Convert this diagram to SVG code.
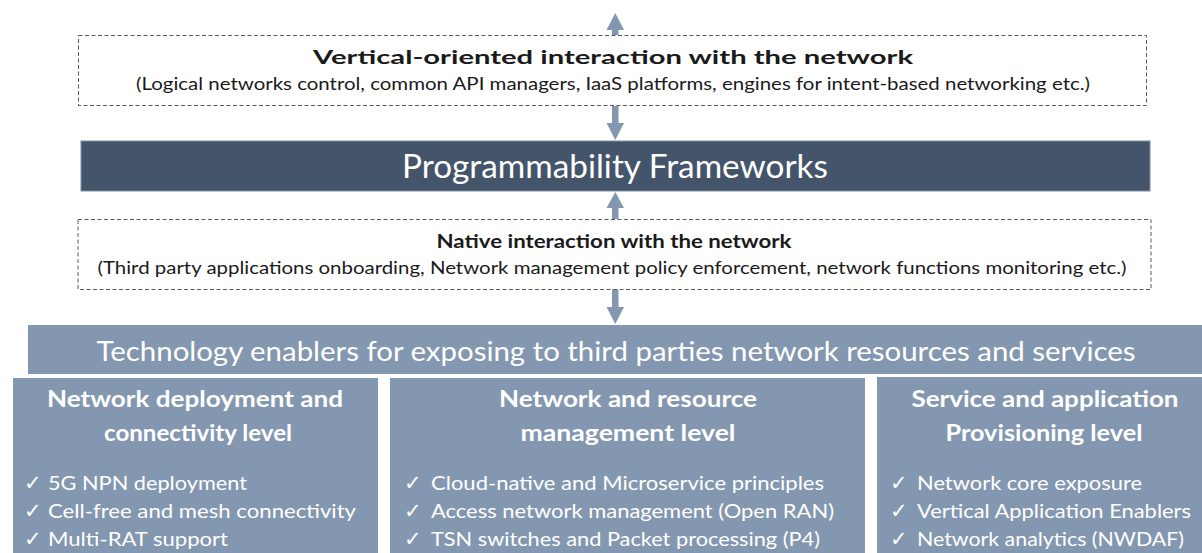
<svg xmlns="http://www.w3.org/2000/svg" width="1202" height="553" viewBox="0 0 1202 553">
  <style>
    text { font-family: Lato, "Liberation Sans", Arial, sans-serif; }
    .dash { fill: #ffffff; stroke: #595959; stroke-width: 1; stroke-dasharray: 4 2.5; }
    .dark { fill: #44546A; stroke: #7f8fa6; stroke-width: 1; }
    .light { fill: #8497B0; }
    .col { fill: #8497B0; stroke: #ffffff; stroke-width: 2; }
    .arrow { fill: #8497B0; }
    .hd { font-size: 18px; font-weight: bold; fill: #1a1a1a; text-anchor: middle; }
    .sub { font-size: 18px; fill: #1a1a1a; text-anchor: middle; }
    .ttl { font-size: 23px; font-weight: bold; fill: #ffffff; text-anchor: middle; }
    .itm { font-size: 20px; fill: #ffffff; }
    .chk { font-family: "DejaVu Sans", sans-serif; font-size: 21px; fill: #ffffff; }
  </style>

  <!-- connectors: block arrows between layers -->
  <g id="connectors">
    <path class="arrow" d="M612 35 V30 H606.5 L615.3 13 L624 30 H618.5 V35 Z"/>
    <path class="arrow" d="M612 106 V123 H606.5 L615.3 140 L624 123 H618.5 V106 Z"/>
    <path class="arrow" d="M612 219 V208 H606.5 L615.3 192 L624 208 H618.5 V219 Z"/>
    <path class="arrow" d="M612 289 V307 H606.5 L615.3 324 L624 307 H618.5 V289 Z"/>
  </g>

  <g id="vertical-interaction">
    <rect class="dash" x="78.5" y="35.5" width="1068" height="70"/>
    <text class="hd" x="613" y="64" textLength="600" lengthAdjust="spacingAndGlyphs">Vertical-oriented interaction with the network</text>
    <text class="sub" x="613" y="90" textLength="954" lengthAdjust="spacingAndGlyphs">(Logical networks control, common API managers, IaaS platforms, engines for intent-based networking etc.)</text>
  </g>

  <g id="programmability-frameworks">
    <rect class="dark" x="81" y="141" width="1069" height="50"/>
    <text x="615" y="178" font-size="33" fill="#ffffff" text-anchor="middle" textLength="426" lengthAdjust="spacingAndGlyphs">Programmability Frameworks</text>
  </g>

  <g id="native-interaction">
    <rect class="dash" x="78" y="219.5" width="1073" height="70"/>
    <text class="hd" x="614" y="248" textLength="355" lengthAdjust="spacingAndGlyphs">Native interaction with the network</text>
    <text class="sub" x="612" y="274" textLength="1029" lengthAdjust="spacingAndGlyphs">(Third party applications onboarding, Network management policy enforcement, network functions monitoring etc.)</text>
  </g>

  <g id="technology-enablers">
    <rect class="light" x="28" y="325" width="1180" height="49"/>
    <text x="616" y="361" font-size="27" fill="#ffffff" text-anchor="middle" textLength="1039" lengthAdjust="spacingAndGlyphs">Technology enablers for exposing to third parties network resources and services</text>
  </g>

  <g id="deployment-level">
    <rect class="col" x="12" y="377" width="367" height="190"/>
    <text class="ttl" x="195" y="407" textLength="296" lengthAdjust="spacingAndGlyphs">Network deployment and</text>
    <text class="ttl" x="198" y="441" textLength="188" lengthAdjust="spacingAndGlyphs">connectivity level</text>
    <text class="chk" x="24" y="490">✓</text>
    <text class="itm" x="48" y="490" textLength="199" lengthAdjust="spacingAndGlyphs">5G NPN deployment</text>
    <text class="chk" x="24" y="518">✓</text>
    <text class="itm" x="48" y="518" textLength="308" lengthAdjust="spacingAndGlyphs">Cell-free and mesh connectivity</text>
    <text class="chk" x="24" y="546">✓</text>
    <text class="itm" x="48" y="546" textLength="180" lengthAdjust="spacingAndGlyphs">Multi-RAT support</text>
  </g>

  <g id="resource-level">
    <rect class="col" x="389" y="377" width="477" height="190"/>
    <text class="ttl" x="628" y="407" textLength="258" lengthAdjust="spacingAndGlyphs">Network and resource</text>
    <text class="ttl" x="628" y="441" textLength="215" lengthAdjust="spacingAndGlyphs">management level</text>
    <text class="chk" x="404" y="490">✓</text>
    <text class="itm" x="431" y="490" textLength="393" lengthAdjust="spacingAndGlyphs">Cloud-native and Microservice principles</text>
    <text class="chk" x="404" y="518">✓</text>
    <text class="itm" x="431" y="518" textLength="403" lengthAdjust="spacingAndGlyphs">Access network management (Open RAN)</text>
    <text class="chk" x="404" y="546">✓</text>
    <text class="itm" x="431" y="546" textLength="389" lengthAdjust="spacingAndGlyphs">TSN switches and Packet processing (P4)</text>
  </g>

  <g id="provisioning-level">
    <rect class="col" x="876" y="376" width="340" height="190"/>
    <text class="ttl" x="1045" y="407" textLength="267" lengthAdjust="spacingAndGlyphs">Service and application</text>
    <text class="ttl" x="1044" y="441" textLength="197" lengthAdjust="spacingAndGlyphs">Provisioning level</text>
    <text class="chk" x="890" y="490">✓</text>
    <text class="itm" x="917" y="490" textLength="225" lengthAdjust="spacingAndGlyphs">Network core exposure</text>
    <text class="chk" x="890" y="518">✓</text>
    <text class="itm" x="917" y="518" textLength="274" lengthAdjust="spacingAndGlyphs">Vertical Application Enablers</text>
    <text class="chk" x="890" y="546">✓</text>
    <text class="itm" x="917" y="546" textLength="267" lengthAdjust="spacingAndGlyphs">Network analytics (NWDAF)</text>
  </g>
</svg>
